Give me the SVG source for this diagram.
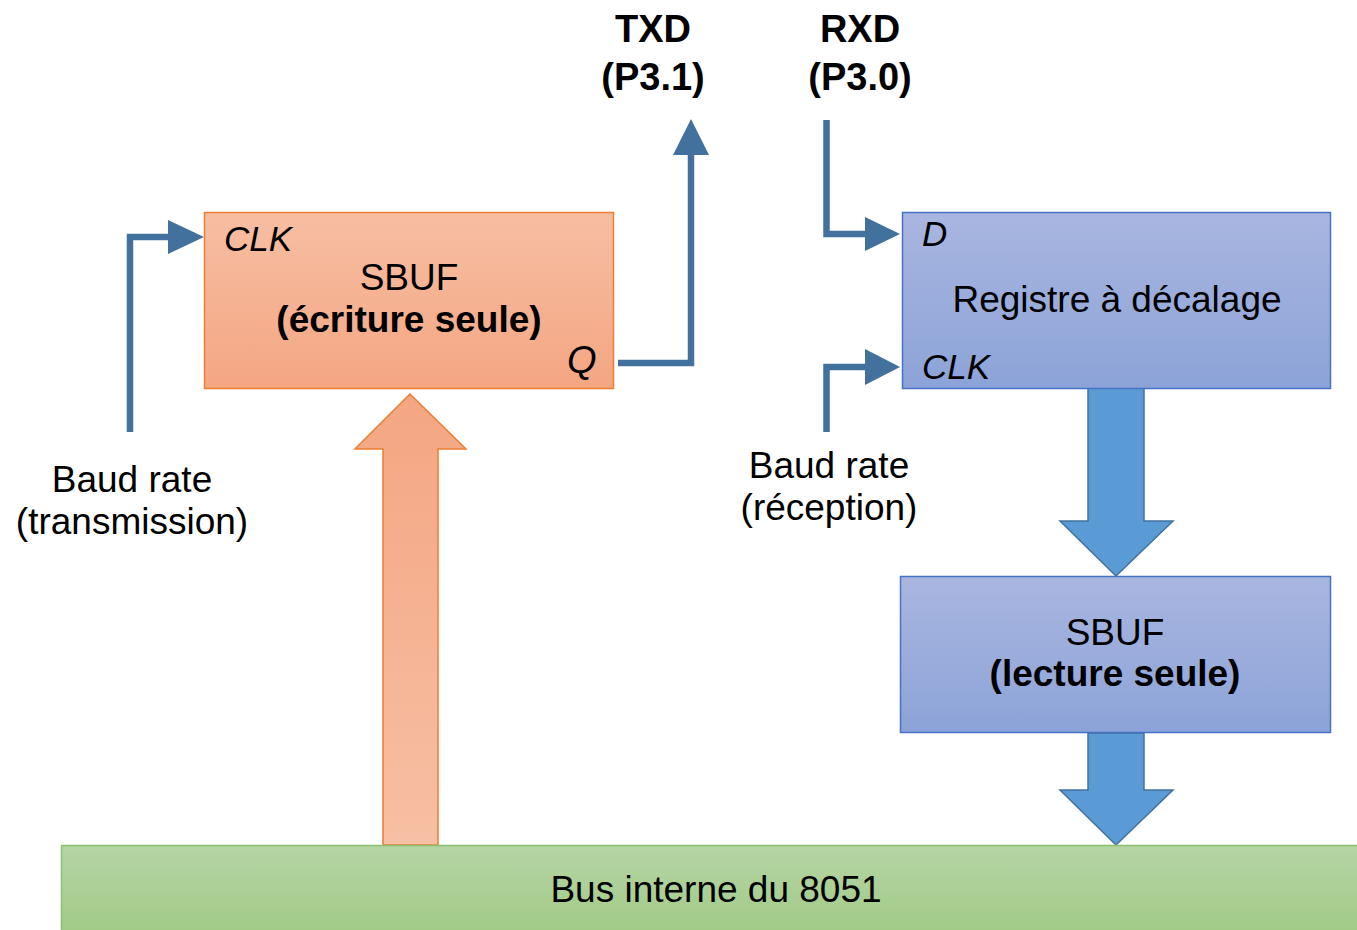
<svg xmlns="http://www.w3.org/2000/svg" width="1357" height="930" viewBox="0 0 1357 930">
<defs>
<linearGradient id="gOr" x1="0" y1="0" x2="0" y2="1"><stop offset="0" stop-color="#F7BEA3"/><stop offset="1" stop-color="#F4A682"/></linearGradient>
<linearGradient id="gOrUp" x1="0" y1="0" x2="0" y2="1"><stop offset="0" stop-color="#F4A682"/><stop offset="1" stop-color="#F7BFA4"/></linearGradient>
<linearGradient id="gBl" x1="0" y1="0" x2="0" y2="1"><stop offset="0" stop-color="#A9B6E0"/><stop offset="1" stop-color="#8CA3D8"/></linearGradient>
<linearGradient id="gGr" x1="0" y1="0" x2="0" y2="1"><stop offset="0" stop-color="#B5D5A5"/><stop offset="1" stop-color="#A1CA86"/></linearGradient>
</defs>
<style>
.t{font-family:"Liberation Sans",Arial,sans-serif;font-size:37px;fill:#000}
.b{font-weight:bold}
.i{font-style:italic;font-size:35px}
.m{text-anchor:middle}
.p{font-size:38px}
.wire{fill:none;stroke:#41719C;stroke-width:6.5}
.head{fill:#41719C}
.bigb{fill:#5B9BD5;stroke:#41719C;stroke-width:1.5}
</style>
<rect width="1357" height="930" fill="#fff"/>

<g id="connectors">
<path class="wire" d="M130,432 V237 H170"/>
<polygon class="head" points="168,220 204,237 168,254"/>
<path class="wire" d="M618,363 H691 V153"/>
<polygon class="head" points="673,155 691,119 709,155"/>
<path class="wire" d="M826.5,120 V234 H868"/>
<polygon class="head" points="865,217 900,234 865,251"/>
<path class="wire" d="M826.5,432 V367 H868"/>
<polygon class="head" points="865,349 900,367 865,385"/>
<polygon fill="url(#gOrUp)" stroke="#ED7D31" stroke-width="1.5" points="410,394 466,449 438,449 438,845 383,845 383,449 355,449"/>
<polygon class="bigb" points="1088,388 1144,388 1144,521 1173,521 1116,576 1060,521 1088,521"/>
<polygon class="bigb" points="1088,733 1144,733 1144,790 1173,790 1116,845 1060,790 1088,790"/>
</g>

<g id="sbuf-tx">
<rect x="204.5" y="212.5" width="409" height="176" fill="url(#gOr)" stroke="#ED7D31" stroke-width="1.5"/>
<text class="t i" x="224" y="251">CLK</text>
<text class="t m" x="409" y="290">SBUF</text>
<text class="t b m" x="409" y="332">(écriture seule)</text>
<text class="t i" x="567" y="373" style="font-size:38px">Q</text>
</g>

<g id="txd">
<text class="t b m p" x="653" y="42">TXD</text>
<text class="t b m p" x="653" y="90">(P3.1)</text>
</g>
<g id="rxd">
<text class="t b m p" x="860" y="42">RXD</text>
<text class="t b m p" x="860" y="90">(P3.0)</text>
</g>

<g id="baud-tx">
<text class="t m" x="132" y="492">Baud rate</text>
<text class="t m" x="132" y="534">(transmission)</text>
</g>
<g id="baud-rx">
<text class="t m" x="829" y="478">Baud rate</text>
<text class="t m" x="829" y="520">(réception)</text>
</g>

<g id="registre">
<rect x="902.5" y="212.5" width="428" height="176" fill="url(#gBl)" stroke="#4472C4" stroke-width="1.5"/>
<text class="t i" x="922" y="246">D</text>
<text class="t m" x="1117" y="312">Registre à décalage</text>
<text class="t i" x="922" y="379">CLK</text>
</g>

<g id="sbuf-rx">
<rect x="900.5" y="576.5" width="430" height="156" fill="url(#gBl)" stroke="#4472C4" stroke-width="1.5"/>
<text class="t m" x="1115" y="645">SBUF</text>
<text class="t b m" x="1115" y="686">(lecture seule)</text>
</g>

<g id="bus">
<rect x="61.5" y="845.5" width="1300" height="90" fill="url(#gGr)" stroke="#8CBF6E" stroke-width="1.5"/>
<text class="t m" x="716" y="902">Bus interne du 8051</text>
</g>
</svg>
